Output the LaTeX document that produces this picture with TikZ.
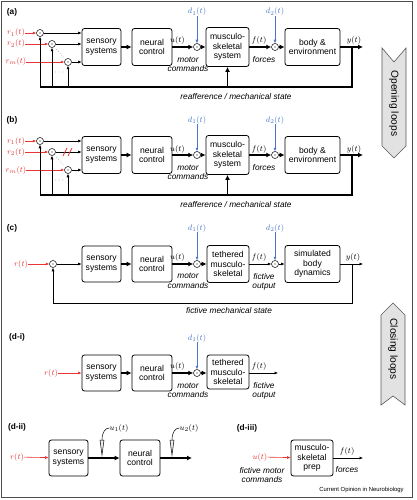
\documentclass[tikz,border=0pt]{standalone}
\usepackage{fontspec}
\setmainfont{Liberation Sans}
\usepackage{amsmath}
\usetikzlibrary{arrows.meta}
\usetikzlibrary{positioning}
\usetikzlibrary{calc}

\definecolor{sigred}{RGB}{232,52,52}
\definecolor{distblue}{RGB}{72,118,196}
\definecolor{bannergray}{RGB}{226,226,226}

\newcommand{\boxfont}{\fontsize{8.6}{9.6}\selectfont}
\newcommand{\notefont}{\fontsize{8.3}{9.6}\selectfont\itshape}
\newcommand{\mathfont}{\fontsize{8.5}{10}\selectfont}

\tikzset{
  blk/.style={draw, rounded corners=2.5pt, line width=0.8pt, align=center, font=\boxfont,
    inner sep=1pt, minimum width=39pt, minimum height=37pt},
  sumc/.style={circle, draw, line width=0.5pt, minimum size=7pt, inner sep=0pt,
    path picture={\fill (path picture bounding box.center) circle (0.6pt);}},
  thk/.style={line width=1.8pt, -{Latex[length=5pt,width=5pt]}},
  thn/.style={line width=0.6pt, -{Latex[length=3.5pt,width=3pt]}},
  lbl/.style={font=\mathfont, inner sep=0pt},
  note/.style={font=\notefont, align=center, inner sep=0pt},
  panel/.style={font=\fontsize{8.3}{10}\selectfont\bfseries, inner sep=0pt},
  banner/.style={draw=gray!70!black, fill=bannergray, line width=0.6pt},
  pip/.style={draw, line width=0.5pt, fill=gray!15},
}

\begin{document}
\begin{tikzpicture}[x=1pt,y=-1pt]
    \useasboundingbox (0,0) rectangle (417,500);
    \draw[gray!60!black, line width=0.8pt] (1,1) rectangle (412,497);

    % (a) and (b)
    \foreach \p/\dy in {a/0,b/108}{
    \begin{scope}[yshift=-\dy pt]
    \node[panel] (\p-tag) at (12,12) {(\p)};
    \node[blk] (\p-sen) at (101.5,47) {sensory\\systems};
    \node[blk, minimum width=40pt] (\p-neu) at (152,47) {neural\\control};
    \node[blk, minimum width=43pt, minimum height=39pt] (\p-mus) at (227.5,47) {musculo-\\skeletal\\system};
    \node[blk, minimum width=55pt] (\p-bod) at (312.5,47) {body \&\\environment};
    \node[sumc] (\p-s1) at (40,33) {};
    \node[sumc] (\p-s2) at (52,44) {};
    \node[sumc] (\p-s3) at (68,62) {};
    \node[sumc] (\p-d1) at (197,47) {};
    \node[sumc] (\p-d2) at (275,47) {};
    \node[lbl, text=sigred] (\p-r1) at (16,33) {$r_1(t)$};
    \node[lbl, text=sigred] (\p-r2) at (16,44) {$r_2(t)$};
    \node[lbl, text=sigred] (\p-rm) at (16,62) {$r_m(t)$};
    \node[lbl, text=distblue] (\p-d1t) at (197,12) {$d_1(t)$};
    \node[lbl, text=distblue] (\p-d2t) at (275,12) {$d_2(t)$};
    \node[lbl] (\p-ut) at (177.5,41) {$u(t)$};
    \node[lbl] (\p-ft) at (259,41) {$f(t)$};
    \node[lbl] (\p-yt) at (354,41) {$y(t)$};
    \node[note] (\p-mc) at (188,64.5) {motor\\commands};
    \node[note] (\p-fo) at (264,60) {forces};
    \node[note] (\p-rs) at (236,96.5) {reafference / mechanical state};
    \node[lbl, text=gray] (\p-dots) at (60,73) {$\cdots$};
    \coordinate (\p-out) at (363,47);
    \coordinate (\p-br) at (352,47);
    \coordinate (\p-fr) at (352,87);
    \coordinate (\p-fm) at (227.5,87);
    \coordinate (\p-f3) at (68,87);
    \coordinate (\p-f2) at (52,87);
    \coordinate (\p-fl) at (40,87);
    \draw[thn, sigred] (\p-r1) -- (\p-s1);
    \draw[thn, sigred] (\p-r2) -- (\p-s2);
    \draw[thn, sigred] (\p-rm) -- (\p-s3);
    \draw[thn] (\p-s1) -- (\p-s1 -| \p-sen.west);
    \draw[thn] (\p-s2) -- (\p-s2 -| \p-sen.west);
    \draw[thn] (\p-s3) -- (\p-s3 -| \p-sen.west);
    \draw[gray, dotted, line width=0.6pt, shorten >=3pt, shorten <=3pt] (\p-s2) -- (\p-s3);
    \draw[thn, distblue] (\p-d1t) -- (\p-d1);
    \draw[thn, distblue] (\p-d2t) -- (\p-d2);
    \draw[thk] (\p-sen) -- (\p-neu);
    \draw[thk] (\p-neu) -- (\p-d1);
    \draw[thk] (\p-d1) -- (\p-mus);
    \draw[thk] (\p-mus) -- (\p-d2);
    \draw[thk] (\p-d2) -- (\p-bod);
    \draw[thk] (\p-bod) -- (\p-out);
    \draw[line width=1.8pt] (\p-br) -- (\p-fr) -- (\p-fl);
    \draw[thk] (\p-fm) -- (\p-mus);
    \draw[thn] (\p-fl) -- (\p-s1);
    \draw[thn] (\p-f2) -- (\p-s2);
    \draw[thn] (\p-f3) -- (\p-s3);
    \end{scope}
    }
    \draw[sigred, line width=0.8pt] (63,156) -- (67,148);
    \draw[sigred, line width=0.8pt] (68,156) -- (72,148);

    % (c)
    \node[panel] (c-tag) at (12,228) {(c)};
    \node[blk, minimum height=36pt] (c-sen) at (101.5,264) {sensory\\systems};
    \node[blk, minimum width=40pt, minimum height=36pt] (c-neu) at (152,264) {neural\\control};
    \node[blk, minimum width=42pt] (c-tet) at (228,264) {tethered\\musculo-\\skeletal};
    \node[blk, minimum width=55pt] (c-sim) at (312.5,264) {simulated\\body\\dynamics};
    \node[sumc] (c-s) at (53,264) {};
    \node[sumc] (c-d1) at (197,264) {};
    \node[sumc] (c-d2) at (275,264) {};
    \node[lbl, text=sigred] (c-r) at (21,264) {$r(t)$};
    \node[lbl, text=distblue] (c-d1t) at (197,228) {$d_1(t)$};
    \node[lbl, text=distblue] (c-d2t) at (275,228) {$d_2(t)$};
    \node[lbl] (c-ut) at (177.5,257) {$u(t)$};
    \node[lbl] (c-ft) at (259,257) {$f(t)$};
    \node[lbl] (c-yt) at (353,257) {$y(t)$};
    \node[note] (c-mc) at (188,281) {motor\\commands};
    \node[note] (c-fo) at (264,282) {fictive\\output};
    \node[note] (c-ms) at (229,310.5) {fictive mechanical state};
    \coordinate (c-out) at (363,264);
    \coordinate (c-br) at (352,264);
    \coordinate (c-fr) at (352,303);
    \coordinate (c-fl) at (53,303);
    \draw[thn, sigred] (c-r) -- (c-s);
    \draw[thn] (c-s) -- (c-sen);
    \draw[thn, distblue] (c-d1t) -- (c-d1);
    \draw[thn, distblue] (c-d2t) -- (c-d2);
    \draw[thk] (c-sen) -- (c-neu);
    \draw[thk] (c-neu) -- (c-d1);
    \draw[thk] (c-d1) -- (c-tet);
    \draw[thn] (c-tet) -- (c-d2);
    \draw[thn] (c-d2) -- (c-sim);
    \draw[thn] (c-sim) -- (c-out);
    \draw[thn] (c-br) -- (c-fr) -- (c-fl) -- (c-s);

    % (d-i)
    \node[panel] (di-tag) at (17,337) {(d-i)};
    \node[blk, minimum height=36pt] (di-sen) at (101.5,373) {sensory\\systems};
    \node[blk, minimum width=40pt, minimum height=36pt] (di-neu) at (152,373) {neural\\control};
    \node[blk, minimum width=42pt, minimum height=34pt] (di-tet) at (228,372) {tethered\\musculo-\\skeletal};
    \node[sumc] (di-d1) at (197,373) {};
    \node[lbl, text=sigred] (di-r) at (51,373) {$r(t)$};
    \node[lbl, text=distblue] (di-d1t) at (197,338) {$d_1(t)$};
    \node[lbl] (di-ut) at (177.5,366) {$u(t)$};
    \node[lbl] (di-ft) at (259,366) {$f(t)$};
    \node[note] (di-mc) at (188,390.5) {motor\\commands};
    \node[note] (di-fo) at (264,391) {fictive\\output};
    \coordinate (di-out) at (278,373);
    \draw[thn, sigred] (di-r) -- (di-sen);
    \draw[thn, distblue] (di-d1t) -- (di-d1);
    \draw[thk] (di-sen) -- (di-neu);
    \draw[thk] (di-neu) -- (di-d1);
    \draw[thk] (di-d1) -- (di-d1 -| di-tet.west);
    \draw[thn] (di-tet.east |- di-out) -- (di-out);

    % (d-ii)
    \node[panel] (dii-tag) at (17,427) {(d-ii)};
    \node[blk, minimum height=36pt] (dii-sen) at (68.5,458) {sensory\\systems};
    \node[blk, minimum width=40pt, minimum height=36pt] (dii-neu) at (140,458) {neural\\control};
    \node[lbl, text=sigred] (dii-r) at (17,457) {$r(t)$};
    \node[lbl] (dii-u1) at (119,428) {$u_1(t)$};
    \node[lbl] (dii-u2) at (189,428) {$u_2(t)$};
    \coordinate (dii-out) at (192,458);
    \coordinate (dii-p1) at (102,440);
    \coordinate (dii-p2) at (172,440);
    \draw[thn, sigred] (dii-r) -- (dii-sen);
    \draw[thk] (dii-sen) -- (dii-neu);
    \draw[thk] (dii-neu) -- (dii-out);
    \draw[pip] (100,440) -- (102,455) -- (104,440) -- cycle;
    \draw[pip] (170,440) -- (172,455) -- (174,440) -- cycle;
    \draw[line width=0.5pt] (dii-p1) .. controls +(0,-8) and +(-4,0) .. (dii-u1.west);
    \draw[line width=0.5pt] (dii-p2) .. controls +(0,-8) and +(-4,0) .. (dii-u2.west);

    % (d-iii)
    \node[panel] (diii-tag) at (247,428) {(d-iii)};
    \node[blk, minimum width=42pt, minimum height=36pt] (diii-pre) at (312,458) {musculo-\\skeletal\\prep};
    \node[lbl, text=sigred] (diii-u) at (260,457) {$u(t)$};
    \node[lbl] (diii-ft) at (347,451) {$f(t)$};
    \node[note] (diii-fo) at (347,470) {forces};
    \node[note] (diii-fm) at (262,475) {fictive motor\\commands};
    \coordinate (diii-out) at (363,458);
    \draw[thn, sigred] (diii-u) -- (diii-pre);
    \draw[thn] (diii-pre) -- (diii-out);

    % side banners
    \draw[banner] (382,48) -- (394,62) -- (406,48) -- (406,146) -- (394,158) -- (382,146) -- cycle;
    \node[rotate=-90, font=\fontsize{10.2}{12}\selectfont] (open) at (394,103.5) {Opening loops};
    \draw[banner] (393,303) -- (405,315) -- (405,405) -- (393,396) -- (381,405) -- (381,315) -- cycle;
    \node[rotate=-90, font=\fontsize{10.2}{12}\selectfont] (close) at (393,349) {Closing loops};

    \node[font=\fontsize{5.9}{7}\selectfont] (credit) at (361.5,490) {Current Opinion in Neurobiology};
\end{tikzpicture}
\end{document}
